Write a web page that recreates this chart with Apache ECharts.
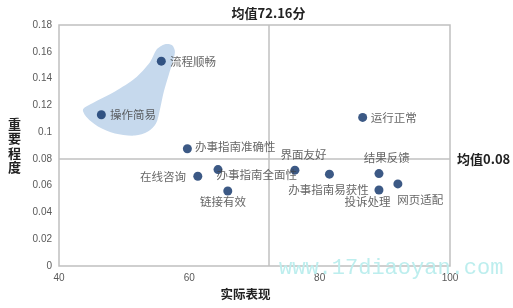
<!DOCTYPE html>
<html><head><meta charset="utf-8">
<script src="https://cdn.jsdelivr.net/npm/echarts@6/dist/echarts.min.js"></script>
<style>html,body{margin:0;padding:0;background:#fff}#c{width:513px;height:308px}</style>
</head><body><div id="c"></div>
<script>
// ---- data ----
const names = ['操作简易','流程顺畅','运行正常','办事指南准确性','在线咨询','办事指南全面性','链接有效','界面友好','办事指南易获性','结果反馈','投诉处理','网页适配'];
const performance = [46.5, 55.7, 86.6, 59.7, 61.3, 64.4, 65.9, 76.2, 81.5, 89.1, 89.1, 92.0];
const importance  = [0.113, 0.153, 0.111, 0.0876, 0.067, 0.072, 0.056, 0.0716, 0.0686, 0.069, 0.0568, 0.0613];
const meanX = 72.16;
const meanY = 0.08;
const xMin = 40, xMax = 100, xStep = 20;
const yMin = 0, yMax = 0.18, yStep = 0.02;
// highlight outline (data coordinates)
const blobX = [57.33, 57.79, 56.87, 56.10, 55.49, 54.88, 53.65, 51.66, 48.59, 45.98, 44.29, 43.68, 45.06, 48.59, 51.66, 53.96, 55.03, 56.26];
const blobY = [0.1650, 0.1597, 0.1432, 0.1305, 0.1169, 0.1064, 0.1004, 0.0974, 0.0989, 0.1042, 0.1109, 0.1169, 0.1214, 0.1304, 0.1402, 0.1522, 0.1620, 0.1657];

// ---- label placement (style, px offset of label centre from point) ----
const labelOffsets = [[31.6,0],[31.6,0],[31,0],[47.8,-1.7],[-34.8,0.4],[38.7,4.6],[-4.9,11],[8.7,-16],[-1,15],[7.7,-16.4],[-11.5,11.7],[22.5,15.3]];

const chart = echarts.init(document.getElementById('c'), null, {renderer:'canvas'});
const cjk = '"Noto Sans CJK SC", "Liberation Sans", sans-serif';
const lat = '"Liberation Sans", Arial, sans-serif';
const grey = '#c0c0c0';

chart.setOption({
  animation: false,
  grid: {left: 59, right: 63, top: 25, bottom: 42, show: true, borderColor: grey, borderWidth: 1.5},
  xAxis: {
    type: 'value', min: xMin, max: xMax, interval: xStep,
    axisLine: {show: false}, axisTick: {show: false}, splitLine: {show: false},
    axisLabel: {color: '#595959', fontSize: 10, fontFamily: lat, margin: 7},
    name: '实际表现', nameLocation: 'middle', nameGap: 21,
    nameTextStyle: {fontFamily: cjk, fontWeight: 'bold', fontSize: 12.5, color: '#222', padding: [0, 18, 0, 0]}
  },
  yAxis: {
    type: 'value', min: yMin, max: yMax, interval: yStep,
    axisLine: {show: false}, axisTick: {show: false}, splitLine: {show: false},
    axisLabel: {color: '#595959', fontSize: 10, fontFamily: lat, margin: 7},
    name: '重\n要\n程\n度', nameLocation: 'middle', nameRotate: 0, nameGap: 38,
    nameTextStyle: {fontFamily: cjk, fontWeight: 'bold', fontSize: 13, lineHeight: 14.5, color: '#222'}
  },
  series: [
    {
      type: 'custom', silent: true, z: 1,
      data: [[blobX[0], blobY[0]]],
      renderItem: function (params, api) {
        const pts = blobX.map((x, i) => api.coord([x, blobY[i]]));
        return {type: 'polygon', shape: {points: pts, smooth: 0.3}, style: {fill: '#c6d9ed'}};
      }
    },
    {
      type: 'scatter', z: 3, symbolSize: 9,
      itemStyle: {color: '#0b2f66'},
      data: names.map((n, i) => ({name: n, value: [performance[i], importance[i]], label: {offset: labelOffsets[i]}})),
      label: {show: true, position: 'inside', formatter: '{b}', color: '#404040', fontSize: 11.5, fontFamily: cjk},
      markLine: {
        silent: true, symbol: 'none', z: 2,
        lineStyle: {color: grey, width: 1.5, type: 'solid'},
        label: {fontFamily: cjk, fontWeight: 'bold', color: '#222', fontSize: 13},
        data: [
          {xAxis: meanX, label: {position: 'end', formatter: '均值' + meanX + '分', distance: 5}},
          {yAxis: meanY, label: {position: 'end', formatter: '均值' + meanY, distance: 7}}
        ]
      }
    }
  ],
  graphic: [{
    type: 'text', left: 279, top: 257, silent: true, z: 10,
    style: {text: 'www.17diaoyan.com', fill: '#bdeeee', font: '22px "Liberation Mono", "DejaVu Sans Mono", monospace'}
  }]
});
</script></body></html>
